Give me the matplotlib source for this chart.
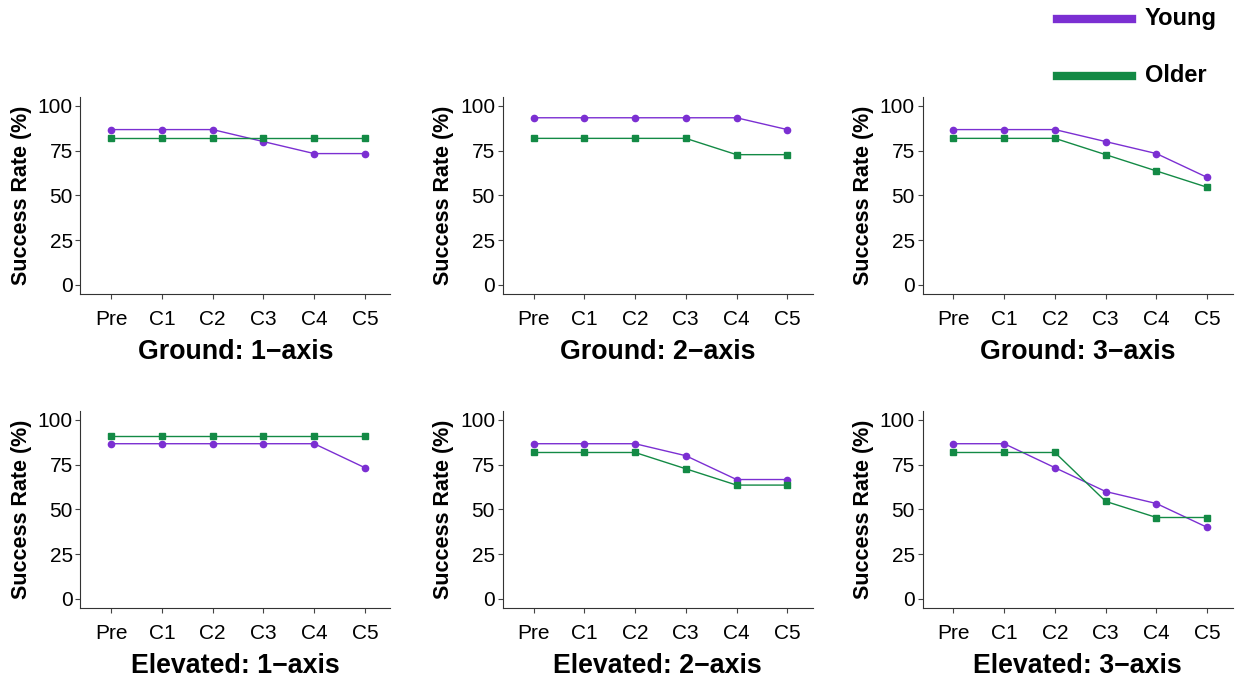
import matplotlib.pyplot as plt
import numpy as np

plt.rcParams['font.family'] = ['Liberation Sans', 'DejaVu Sans']

# Data
sessions = ["Pre", "C1", "C2", "C3", "C4", "C5"]
titles = ["Ground: 1\u2212axis", "Ground: 2\u2212axis", "Ground: 3\u2212axis",
          "Elevated: 1\u2212axis", "Elevated: 2\u2212axis", "Elevated: 3\u2212axis"]

young_g1 = [86.7, 86.7, 86.7, 80.0, 73.3, 73.3]
older_g1 = [81.8, 81.8, 81.8, 81.8, 81.8, 81.8]
young_g2 = [93.3, 93.3, 93.3, 93.3, 93.3, 86.7]
older_g2 = [81.8, 81.8, 81.8, 81.8, 72.7, 72.7]
young_g3 = [86.7, 86.7, 86.7, 80.0, 73.3, 60.0]
older_g3 = [81.8, 81.8, 81.8, 72.7, 63.6, 54.5]
young_e1 = [86.7, 86.7, 86.7, 86.7, 86.7, 73.3]
older_e1 = [90.9, 90.9, 90.9, 90.9, 90.9, 90.9]
young_e2 = [86.7, 86.7, 86.7, 80.0, 66.7, 66.7]
older_e2 = [81.8, 81.8, 81.8, 72.7, 63.6, 63.6]
young_e3 = [86.7, 86.7, 73.3, 60.0, 53.3, 40.0]
older_e3 = [81.8, 81.8, 81.8, 54.5, 45.5, 45.5]

young = [young_g1, young_g2, young_g3, young_e1, young_e2, young_e3]
older = [older_g1, older_g2, older_g3, older_e1, older_e2, older_e3]

c_young = "#7B2FD2"
c_older = "#138A45"

fig = plt.figure(figsize=(12.35, 6.77), dpi=100)

lefts = [0.065, 0.407, 0.747]
bottoms = [0.566, 0.102]
w, h = 0.251, 0.291

x = np.arange(len(sessions))
for i in range(6):
    ax = fig.add_axes([lefts[i % 3], bottoms[i // 3], w, h])
    ax.plot(x, young[i], color=c_young, lw=1.0, marker="o", ms=4.5)
    ax.plot(x, older[i], color=c_older, lw=1.0, marker="s", ms=4.5)
    ax.set_xlim(-0.61, 5.5)
    ax.set_ylim(-5, 105)
    ax.set_xticks(x)
    ax.set_xticklabels(sessions)
    ax.set_yticks([0, 25, 50, 75, 100])
    ax.tick_params(labelsize=15, length=3.5, width=0.8, color="#444444", pad=2)
    ax.tick_params(axis="x", pad=8)
    ax.spines["top"].set_visible(False)
    ax.spines["right"].set_visible(False)
    for s in ["left", "bottom"]:
        ax.spines[s].set_color("#333333")
        ax.spines[s].set_linewidth(0.8)
    ax.set_ylabel("Success Rate (%)", fontsize=15.5, fontweight="bold", labelpad=4)
    ax.set_xlabel(titles[i], fontsize=19.3, fontweight="bold", labelpad=7)

# legend
fig.lines.append(plt.Line2D([0.856, 0.917], [0.972, 0.972], color=c_young, lw=6,
                            transform=fig.transFigure))
fig.lines.append(plt.Line2D([0.856, 0.917], [0.888, 0.888], color=c_older, lw=6,
                            transform=fig.transFigure))
fig.text(0.927, 0.972, "Young", fontsize=17, fontweight="bold", va="center")
fig.text(0.927, 0.888, "Older", fontsize=17, fontweight="bold", va="center")

fig.savefig("out.png", dpi=100)
